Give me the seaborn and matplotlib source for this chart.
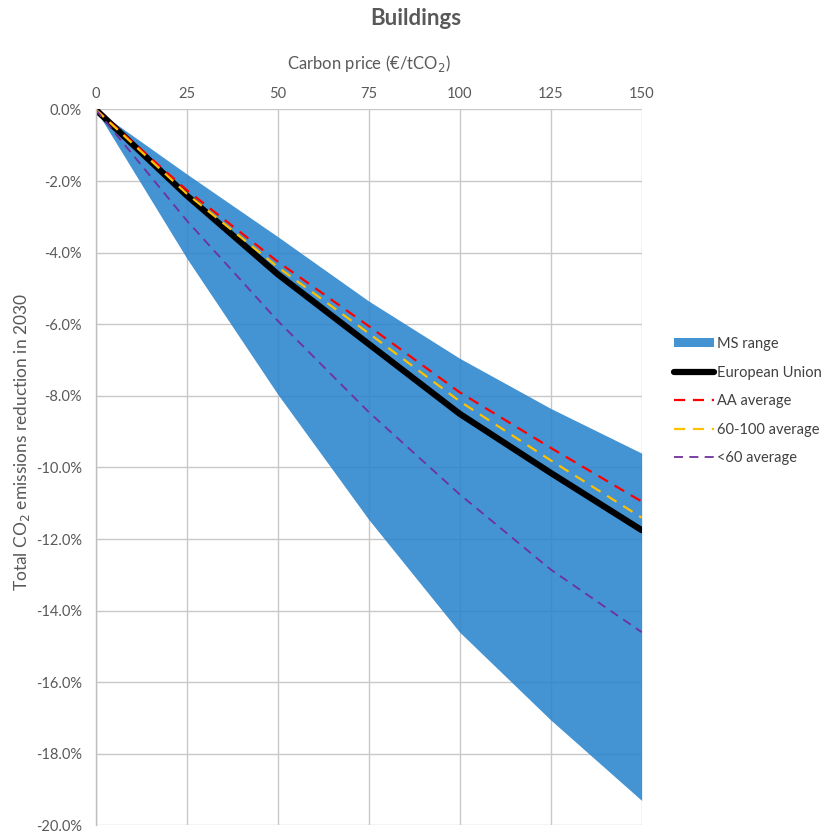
import numpy as np
import pandas as pd
import matplotlib
matplotlib.use("Agg")
import matplotlib.pyplot as plt
from matplotlib.ticker import FuncFormatter
import seaborn as sns

# carbon price (EUR/tCO2) and emission reduction in 2030 (%)
carbon_price = [0, 25, 50, 75, 100, 125, 150]
ms_upper = [0.0, -1.8, -3.55, -5.35, -6.95, -8.35, -9.6]
ms_lower = [0.0, -4.15, -7.95, -11.45, -14.6, -17.05, -19.3]
eu = [0.0, -2.4, -4.6, -6.55, -8.5, -10.15, -11.75]
aa_avg = [0.0, -2.25, -4.25, -6.05, -7.9, -9.45, -10.95]
mid_avg = [0.0, -2.35, -4.4, -6.25, -8.15, -9.8, -11.4]
low_avg = [0.0, -3.1, -5.9, -8.45, -10.75, -12.85, -14.6]

x_ticks = [0, 25, 50, 75, 100, 125, 150]
y_ticks = np.arange(0, -20.1, -2)

df = pd.DataFrame({
    "price": carbon_price,
    "European Union": eu,
    "AA average": aa_avg,
    "60-100 average": mid_avg,
    "<60 average": low_avg,
})

sns.set_style("white")
plt.rcParams["font.family"] = ["Lato", "DejaVu Sans"]
text_col = "#595959"

fig = plt.figure(figsize=(8.29, 8.35), dpi=100)
ax = fig.add_axes([0.1154, 0.0114, 0.6586, 0.8575])

ax.fill_between(carbon_price, ms_upper, ms_lower, color="#2A84CC", alpha=0.88,
                linewidth=0, label="MS range", zorder=2)
sns.lineplot(data=df, x="price", y="European Union", ax=ax, color="black",
             linewidth=4.5, label="European Union", zorder=4)
sns.lineplot(data=df, x="price", y="AA average", ax=ax, color="#FF0000",
             linewidth=1.6, label="AA average", zorder=5)
sns.lineplot(data=df, x="price", y="60-100 average", ax=ax, color="#FFC000",
             linewidth=1.6, label="60-100 average", zorder=5)
sns.lineplot(data=df, x="price", y="<60 average", ax=ax, color="#7030A0",
             linewidth=1.3, label="<60 average", zorder=5)
for ln in ax.lines[1:]:
    ln.set_dashes((5, 3.5))

ax.set_xlim(0, 150)
ax.set_ylim(-20, 0)
ax.set_xticks(x_ticks)
ax.set_yticks(y_ticks)
ax.yaxis.set_major_formatter(FuncFormatter(lambda v, p: f"{v:.1f}%"))
ax.xaxis.tick_top()
ax.xaxis.set_label_position("top")
ax.tick_params(length=0, labelsize=10.5, colors=text_col, pad=6)
ax.tick_params(axis="y", pad=10)
ax.grid(True, color="#C8C8C8", linewidth=1.0, zorder=1)
ax.set_axisbelow(True)
for s in ["right", "bottom", "top"]:
    ax.spines[s].set_visible(False)
ax.spines["left"].set_color("#BFBFBF")
ax.spines["left"].set_linewidth(1.0)
ax.spines["left"].set_zorder(6)

ax.set_xlabel("Carbon price (€/tCO$_2$)", fontsize=12, color=text_col, labelpad=13)
ax.set_ylabel("Total CO$_2$ emissions reduction in 2030", fontsize=12.5,
              color=text_col)
ax.yaxis.set_label_coords(-0.116, 0.535)
fig.text(0.502, 0.978, "Buildings", ha="center", va="center", fontsize=16,
         fontweight="bold", color=text_col)

leg = ax.legend(loc="center left", bbox_to_anchor=(1.036, 0.5925), frameon=False,
                fontsize=10.5, handlelength=2.7, handletextpad=0.25,
                labelspacing=1.0, borderaxespad=0.5)
for t in leg.get_texts():
    t.set_color("#404040")
leg.legend_handles[0].set_height(6)
leg.legend_handles[0].set_y(1)

fig.savefig("out.png", dpi=100)
